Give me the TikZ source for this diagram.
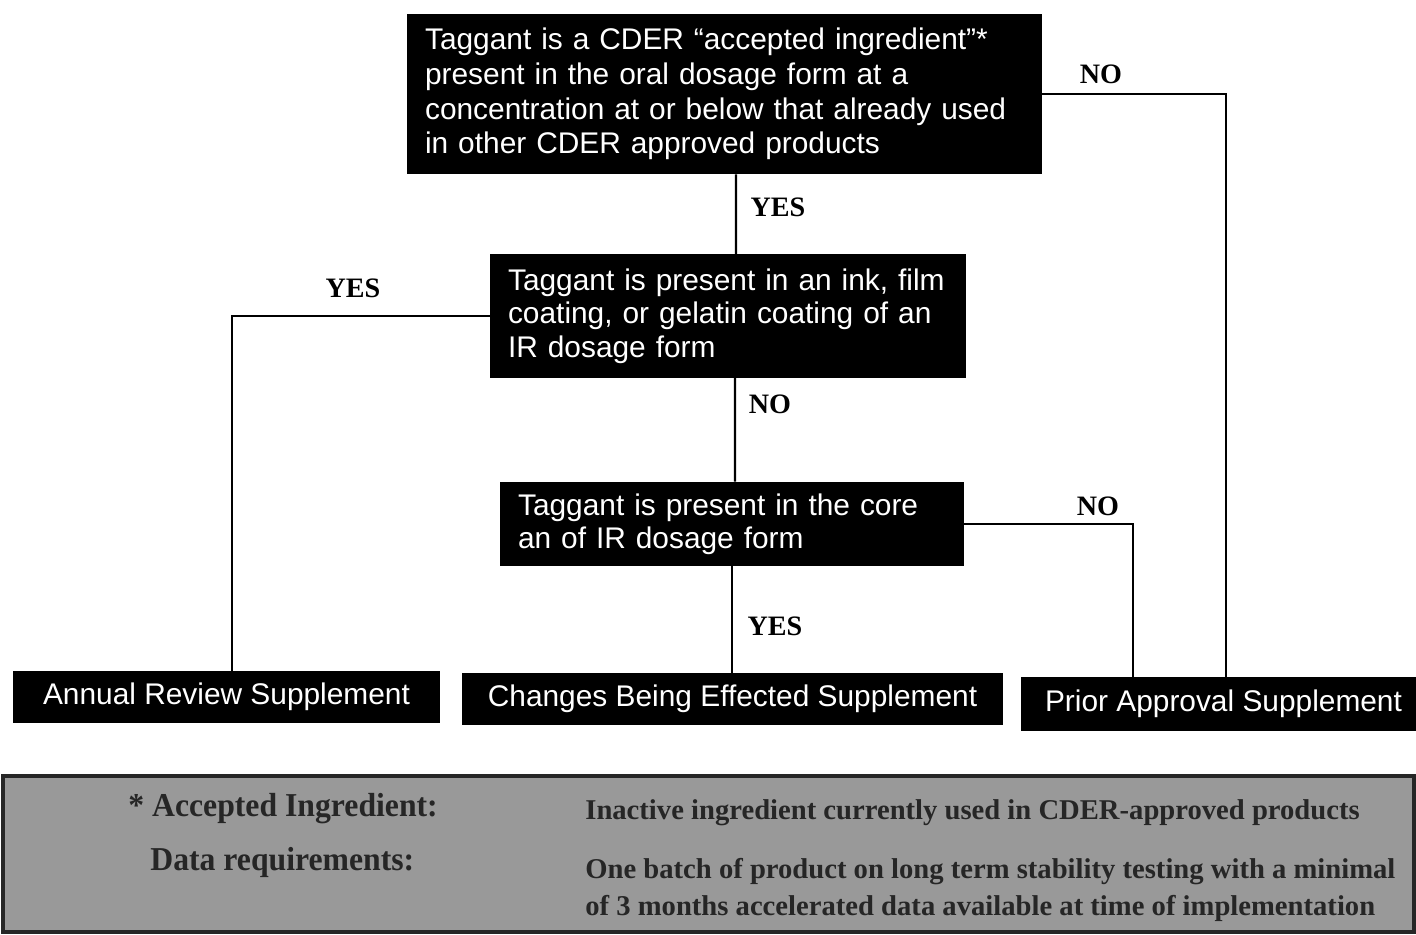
\documentclass[tikz,border=0pt]{standalone}
\usepackage{fontspec}
\setmainfont{Liberation Sans}
\newfontfamily\labelfont{Liberation Serif}
\newfontfamily\legendfont[FakeStretch=0.95]{Liberation Serif}
\begin{document}
\begin{tikzpicture}[x=0.02cm,y=-0.02cm,
    decision/.style={fill=black,text=white,inner xsep=0.36cm,inner ysep=0pt,outer sep=0pt,align=left},
    outcome/.style={fill=black,text=white,inner sep=0pt,outer sep=0pt,minimum height=1.04cm,font=\fontsize{17}{19}\selectfont},
    answer/.style={font=\labelfont\bfseries\fontsize{16}{19}\selectfont},
    legendtext/.style={anchor=west,inner sep=0pt,text=black!85,align=left,font=\labelfont\bfseries\fontsize{16.3}{21}\selectfont},
    legendname/.style={anchor=west,inner sep=0pt,text=black!85,font=\legendfont\bfseries\fontsize{19}{21}\selectfont},
    link/.style={line width=1.3pt}]
    \useasboundingbox (0,0) rectangle (1416,935);

    % questions
    \node[decision,text width=11.98cm,minimum height=3.22cm,font=\fontsize{17}{19.8}\selectfont] (accepted) at (724.5,94)
        {Taggant is a CDER “accepted ingredient”*\\present in the oral dosage form at a\\concentration at or below that already used\\in other CDER approved products};
    \node[decision,text width=8.8cm,minimum height=2.48cm,font=\fontsize{17}{19}\selectfont] (coating) at (728,316)
        {Taggant is present in an ink, film\\coating, or gelatin coating of an\\IR dosage form};
    \node[decision,text width=8.56cm,minimum height=1.7cm,font=\fontsize{17}{19}\selectfont] (core) at (732,524)
        {Taggant is present in the core\\an of IR dosage form};

    % outcomes
    \node[outcome,minimum width=8.54cm] (annual) at (226.5,697) {Annual Review Supplement};
    \node[outcome,minimum width=10.82cm] (changes) at (732.5,699) {Changes Being Effected Supplement};
    \node[outcome,minimum width=7.9cm,minimum height=1.08cm] (prior) at (1218.5,704) {\hspace{0.2cm}Prior Approval Supplement};

    % connectors
    \draw[link] ([xshift=0.23cm]accepted.south) -- ([xshift=0.16cm]coating.north);
    \draw[link] ([xshift=0.14cm]coating.south) -- ([xshift=0.06cm]core.north);
    \draw[link] (core.south) -- (core.south |- changes.north);
    \draw[link] (coating.west) -| ([xshift=0.11cm]annual.north);
    \draw[link] (accepted.east) -| ([xshift=0.15cm]prior.north);
    \draw[link] (core.east) -| ([xshift=-1.71cm]prior.north);

    \node[answer] (yesfirst) at (778,207) {YES};
    \node[answer] (nocoat) at (770,404) {NO};
    \node[answer] (yescore) at (775,626) {YES};
    \node[answer] (yescoat) at (353,288) {YES};
    \node[answer] (nofirst) at (1101,74) {NO};
    \node[answer] (nocore) at (1098,506) {NO};

    % legend
    \node[draw=black!85,line width=2.5pt,fill=black!40,minimum width=28.22cm,minimum height=3.12cm,inner sep=0pt] (legend) at (708.5,854) {};
    \node[legendname] (accname) at (128,809) {* Accepted Ingredient:};
    \node[legendname] (dataname) at (150,862) {Data requirements:};
    \node[legendtext] (accdef) at (585,813) {Inactive ingredient currently used in CDER-approved products};
    \node[legendtext] (datadef) at (585,890) {One batch of product on long term stability testing with a minimal\\of 3 months accelerated data available at time of implementation};
\end{tikzpicture}
\end{document}
